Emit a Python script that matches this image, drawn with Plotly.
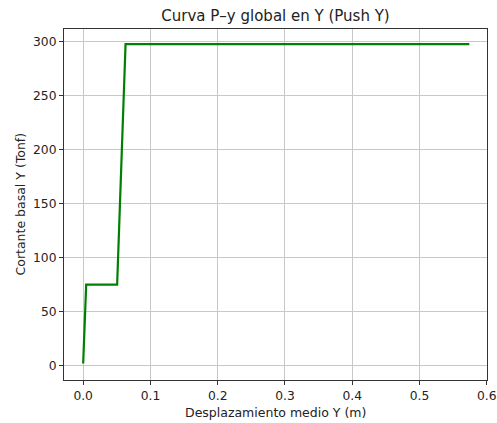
import plotly.graph_objects as go

desplazamiento = [0.0, 0.0045, 0.0505, 0.063, 0.574]
cortante = [2.0, 75.0, 75.0, 297.5, 297.5]
x_ticks = [0.0, 0.1, 0.2, 0.3, 0.4, 0.5, 0.6]
x_tick_labels = ["0.0", "0.1", "0.2", "0.3", "0.4", "0.5", "0.6"]
y_ticks = [0, 50, 100, 150, 200, 250, 300]

W, H = 497, 423
ML, MR, MT, MB = 64, 10, 29, 43
PW, PH = W - ML - MR, H - MT - MB
txt = "#222222"
fig = go.Figure()
fig.add_trace(go.Scatter(x=desplazamiento, y=cortante, mode="lines",
                         line=dict(color="green", width=2.2), showlegend=False,
                         cliponaxis=False))

axis_common = dict(showline=True, linecolor="#333333", linewidth=1, mirror=True,
                   ticks="outside", ticklen=4, tickcolor="#333333", tickwidth=1,
                   showgrid=True, gridcolor="#c8c8c8", gridwidth=1, zeroline=False,
                   automargin=False, ticklabeloverflow="allow",
                   tickfont=dict(family="DejaVu Sans", size=12.3, color=txt))

fig.update_layout(
    width=W, height=H,
    paper_bgcolor="white", plot_bgcolor="white",
    margin=dict(l=ML, r=MR, t=MT, b=MB),
    title=dict(text="Curva P–y global en Y (Push Y)", x=275.5 / W, xanchor="center",
               y=1 - 16 / H, yanchor="middle",
               font=dict(family="DejaVu Sans", size=15, color=txt)),
    xaxis=dict(range=[-0.0285, 0.6003], tickvals=x_ticks, ticktext=x_tick_labels,
               **axis_common),
    yaxis=dict(range=[-13.3, 311.5], tickvals=y_ticks, **axis_common),
    annotations=[
        dict(text="Desplazamiento medio Y (m)", xref="paper", yref="paper",
             x=0.5, y=-(412 - (H - MB)) / PH, xanchor="center", yanchor="middle",
             showarrow=False, font=dict(family="DejaVu Sans", size=12.5, color=txt)),
        dict(text="Cortante basal Y (Tonf)", xref="paper", yref="paper",
             x=-(ML - 20) / PW, y=0.5, xanchor="center", yanchor="middle", textangle=-90,
             showarrow=False, font=dict(family="DejaVu Sans", size=12.5, color=txt)),
    ],
)
fig.write_html(
    "out.html",
    config={"displayModeBar": False},
    post_script="document.body.style.margin='0';document.body.style.overflow='hidden';",
)
